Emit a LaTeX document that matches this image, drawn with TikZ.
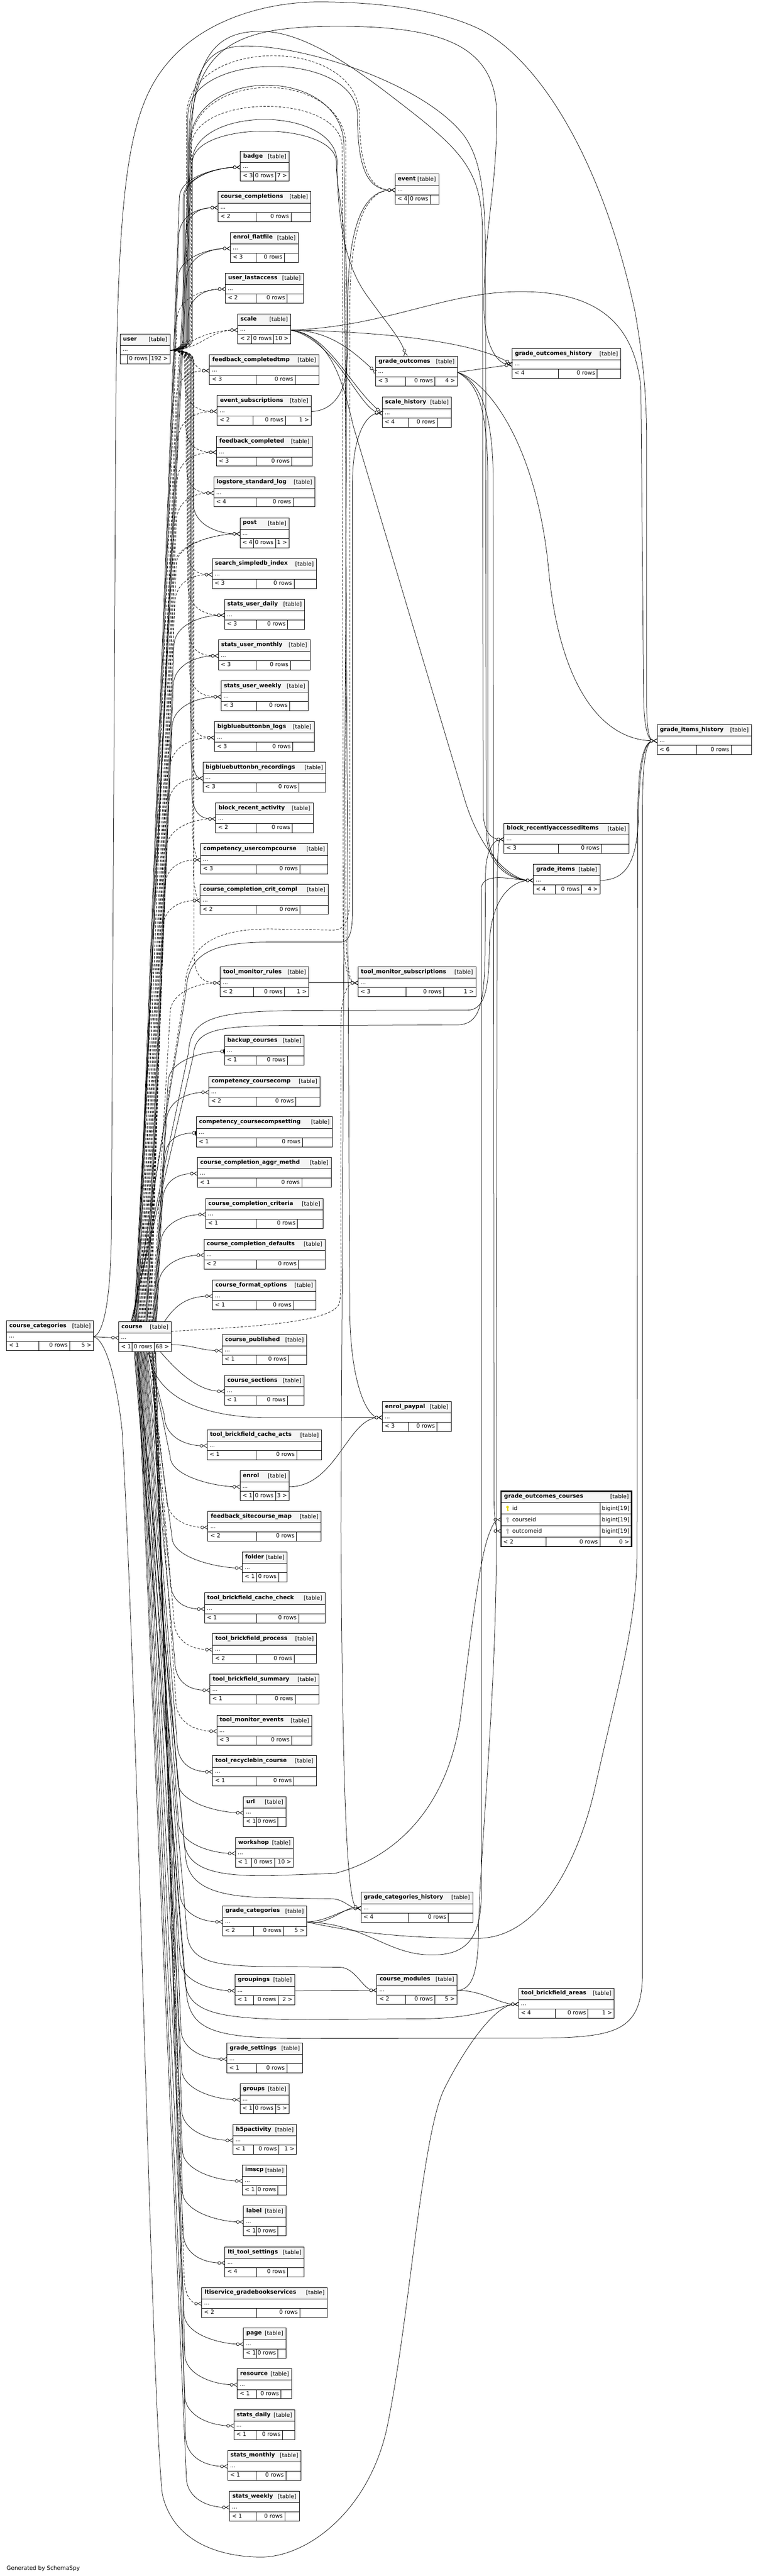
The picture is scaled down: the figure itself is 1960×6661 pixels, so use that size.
\documentclass[tikz,border=0pt]{standalone}
\usepackage{fontspec}
\setmainfont{DejaVu Sans}
\usetikzlibrary{arrows.meta}
\definecolor{hdrgray}{HTML}{F5F5F5}
\definecolor{keyyellow}{HTML}{E6D600}
\definecolor{keygray}{HTML}{B4B4B4}
\tikzset{
  every node/.style={inner sep=0pt, font=\fontsize{14.5pt}{17pt}\selectfont},
  tb/.style={draw, line width=1.2pt, inner sep=0pt, outer sep=0pt, anchor=north west},
  il/.style={line width=1pt},
  rel/.style={line width=1pt, -{Circle[fill=white,length=8.5pt,width=8.5pt]Straight Barb[reversed,length=9pt,width=10pt]}},
  imp/.style={rel, dash pattern=on 6pt off 4pt},
  rel1/.style={line width=1pt, -{Circle[fill=white,length=8.5pt,width=8.5pt]Bar[width=12pt,line width=2.5pt]}},
}
\newcommand\bn[1]{{\bfseries #1}}
\newcommand\tblraw[8]{%
  \fill[hdrgray] (#2,#4) rectangle (#3,#4+29.5);
  \node[tb, minimum width={(#3-#2)*1pt}, minimum height=77.5pt] (#1) at (#2,#4) {};
  \draw[il] (#2,#4+29.5) -- (#3,#4+29.5) (#2,#4+53.5) -- (#3,#4+53.5) (#5,#4+53.5) -- (#5,#4+77.5) (#6,#4+53.5) -- (#6,#4+77.5);
  \node[anchor=base west] at (#2+7,#4+17) {\bn{\detokenize{#1}}};
  \node[anchor=base east] at (#3-7,#4+18.5) {[table]};
  \node[anchor=base west] at (#2+6,#4+44.5) {...};
  \node[anchor=base west] at (#2+6,#4+68.5) {#7};
  \node[anchor=base east] at (#6-5,#4+68.5) {0 rows};
  \node[anchor=base east] at (#3-5,#4+68.5) {#8};
  \coordinate (#1-w) at (#2,#4+41.5);
  \coordinate (#1-e) at (#3,#4+41.5);
  \pgfmathsetmacro\tmpy{#4+41.5}%
  \expandafter\xdef\csname my@#1\endcsname{\tmpy}%
  \expandafter\xdef\csname lx@#1\endcsname{#2}%
}
\newcommand\tbl[6]{%
  \pgfmathsetmacro\tC{(#2+#3)/2}%
  \pgfmathsetmacro\tW{#3-#2}%
  \if\relax\detokenize{#6}\relax
    \pgfmathsetmacro\dA{\tC-21}\pgfmathsetmacro\dB{#3-(0.235*\tW-5)}%
  \else
    \pgfmathsetmacro\dA{\tC-29}\pgfmathsetmacro\dB{#3-(0.27*\tW+1)}%
  \fi
  \tblraw{#1}{#2}{#3}{#4}{\dA}{\dB}{#5}{#6}}
% user -> column table
\newcommand\uE[3]{%
  \pgfmathsetmacro\eY{\csname my@#3\endcsname}%
  \pgfmathsetmacro\eX{\csname lx@#3\endcsname}%
  \pgfmathsetmacro\eC{max(\eX-60,#2+15)}%
  \ifdim\eY pt<905.5pt
    \draw[#1] (user-e) .. controls (#2-25,905.5) and (#2,899) .. (#2,875) -- (#2,\eY+80) .. controls (#2,\eY+25) and (\eC,\eY) .. (#3-w);
  \else
    \draw[#1] (user-e) .. controls (#2-25,905.5) and (#2,912) .. (#2,936) -- (#2,\eY-80) .. controls (#2,\eY-25) and (\eC,\eY) .. (#3-w);
  \fi}
% course -> column table
\newcommand\cE[4]{%
  \pgfmathsetmacro\eY{\csname my@#4\endcsname}%
  \pgfmathsetmacro\eX{\csname lx@#4\endcsname}%
  \pgfmathsetmacro\eC{max(\eX-60,#3+15)}%
  \ifdim\eY pt<3418pt
    \draw[#1] ([xshift=#2pt]course.north) -- (#3,\eY+80) .. controls (#3,\eY+25) and (\eC,\eY) .. (#4-w);
  \else
    \draw[#1] ([xshift=#2pt]course.south) -- (#3,\eY-80) .. controls (#3,\eY-25) and (\eC,\eY) .. (#4-w);
  \fi}
\newcommand\keyicon[3]{%
  \fill[#3] (#1,#2-3) circle[radius=3.4pt];
  \fill[#3] (#1-1.2,#2-1) rectangle (#1+1.2,#2+7);
  \fill[#3] (#1,#2+4) rectangle (#1+2.6,#2+5.5);
}
\begin{document}
\begin{tikzpicture}[x=1pt,y=-1pt]
\useasboundingbox (0,0) rectangle (1960,6661);
\fill[white] (0,0) rectangle (1960,6661);

% ---------------- tables ----------------
\tblraw{user}{311}{440}{864}{329}{387}{}{192 >}
\tblraw{course}{307}{443}{3418}{342}{399}{< 1}{68 >}
\tbl{course_categories}{17}{242}{3415}{< 1}{5 >}

\tbl{badge}{622}{748}{391}{< 3}{7 >}
\tbl{course_completions}{564}{804}{495.5}{< 2}{}
\tbl{enrol_flatfile}{596}{772}{601}{< 3}{}
\tbl{user_lastaccess}{583}{785}{706}{< 2}{}
\tblraw{scale}{615}{752}{812}{650}{708}{< 2}{10 >}
\tbl{feedback_completedtmp}{542}{825}{917}{< 3}{}
\tbl{event_subscriptions}{562}{805}{1022.3}{< 2}{1 >}
\tbl{feedback_completed}{560}{808}{1128}{< 3}{}
\tbl{logstore_standard_log}{553}{815}{1233.3}{< 4}{}
\tbl{post}{621}{748}{1339}{< 4}{1 >}
\tbl{search_simpledb_index}{549}{819}{1444.3}{< 3}{}
\tbl{stats_user_daily}{581}{788}{1549.3}{< 3}{}
\tbl{stats_user_monthly}{565}{802}{1654.4}{< 3}{}
\tbl{stats_user_weekly}{572}{797}{1760.3}{< 3}{}
\tbl{bigbluebuttonbn_logs}{555}{813}{1866}{< 3}{}
\tbl{bigbluebuttonbn_recordings}{525}{843}{1971}{< 3}{}
\tbl{block_recent_activity}{558}{810}{2076}{< 2}{}
\tbl{competency_usercompcourse}{519}{848}{2182}{< 3}{}
\tbl{course_completion_crit_compl}{518}{849}{2287}{< 2}{}
\tbl{tool_monitor_rules}{570}{799}{2500}{< 2}{1 >}
\tbl{backup_courses}{581}{787}{2677}{< 1}{}
\tbl{competency_coursecomp}{540}{828}{2783}{< 2}{}
\tbl{competency_coursecompsetting}{508}{860}{2888}{< 1}{}
\tbl{course_completion_aggr_methd}{511}{857}{2993}{< 1}{}
\tbl{course_completion_criteria}{532}{836}{3099}{< 1}{}
\tbl{course_completion_defaults}{528}{841}{3204}{< 2}{}
\tbl{course_format_options}{550}{817}{3310}{< 1}{}
\tbl{course_published}{575}{793}{3451}{< 1}{}
\tbl{course_sections}{581}{787}{3556}{< 1}{}
\tbl{tool_brickfield_cache_acts}{536}{832}{3697}{< 1}{}
\tbl{enrol}{621}{748}{3803}{< 1}{3 >}
\tbl{feedback_sitecourse_map}{538}{831}{3908}{< 2}{}
\tbl{folder}{627}{743}{4013}{< 1}{}
\tbl{tool_brickfield_cache_check}{529}{841}{4119}{< 1}{}
\tbl{tool_brickfield_process}{550}{819}{4224}{< 2}{}
\tbl{tool_brickfield_summary}{543}{825}{4329}{< 1}{}
\tbl{tool_monitor_events}{561}{807}{4435}{< 3}{}
\tbl{tool_recyclebin_course}{550}{818}{4540}{< 1}{}
\tbl{url}{630}{740}{4646}{< 1}{}
\tblraw{workshop}{609}{759}{4751}{651}{710}{< 1}{10 >}
\tbl{grade_categories}{576}{793}{4928}{< 2}{5 >}
\tbl{groupings}{608}{762}{5106}{< 1}{2 >}
\tbl{grade_settings}{587}{783}{5283}{< 1}{}
\tbl{groups}{621}{748}{5388}{< 1}{5 >}
\tbl{h5pactivity}{603}{767}{5493}{< 1}{1 >}
\tbl{imscp}{627}{741}{5598}{< 1}{}
\tbl{label}{630}{740}{5704}{< 1}{}
\tbl{lti_tool_settings}{582}{787}{5810}{< 4}{}
\tbl{ltiservice_gradebookservices}{522}{847}{5915}{< 2}{}
\tbl{page}{630}{740}{6020}{< 1}{}
\tbl{resource}{614}{755}{6125}{< 1}{}
\tbl{stats_daily}{605}{763}{6231}{< 1}{}
\tbl{stats_monthly}{589}{779}{6336}{< 1}{}
\tbl{stats_weekly}{594}{774}{6442}{< 1}{}

\tbl{event}{1022}{1135}{450}{< 4}{}
\tbl{grade_outcomes}{972}{1183}{921}{< 3}{4 >}
\tbl{grade_outcomes_history}{1325}{1606}{901}{< 4}{}
\tbl{scale_history}{989}{1168}{1027}{< 4}{}
\tbl{grade_items_history}{1700}{1944}{1874}{< 6}{}
\tbl{block_recentlyaccesseditems}{1304}{1627}{2129}{< 3}{}
\tbl{grade_items}{1380}{1552}{2235}{< 4}{4 >}
\tbl{tool_monitor_subscriptions}{926.5}{1231}{2500}{< 3}{1 >}
\tbl{enrol_paypal}{989}{1167}{3624}{< 3}{}
\tbl{grade_categories_history}{934}{1223}{4893}{< 4}{}
\tbl{course_modules}{975}{1182}{5105}{< 2}{5 >}
\tbl{tool_brickfield_areas}{1341.5}{1589}{5141}{< 4}{1 >}

% grade_outcomes_courses (with columns)
\fill[hdrgray] (1296.5,3856) rectangle (1634,3885.5);
\draw[il] (1296.5,3885.5) -- (1634,3885.5) (1296.5,3915) -- (1634,3915) (1296.5,3944.5) -- (1634,3944.5) (1296.5,3974) -- (1634,3974)
  (1552,3885.5) -- (1552,3999.5) (1413,3974) -- (1413,3999.5);
\node[tb, line width=3pt, minimum width=337.5pt, minimum height=143.5pt] (grade_outcomes_courses) at (1296.5,3856) {};
\node[anchor=base west] at (1304,3873) {\bn{grade\_outcomes\_courses}};
\node[anchor=base east] at (1627,3874.5) {[table]};
\keyicon{1313}{3900}{keyyellow}
\keyicon{1313}{3929.5}{keygray}
\keyicon{1313}{3959}{keygray}
\node[anchor=base west] at (1325,3905) {id};
\node[anchor=base west] at (1325,3934.5) {courseid};
\node[anchor=base west] at (1325,3964) {outcomeid};
\node[anchor=base west] at (1557,3905) {bigint[19]};
\node[anchor=base west] at (1557,3934.5) {bigint[19]};
\node[anchor=base west] at (1557,3964) {bigint[19]};
\node[anchor=base west] at (1302,3992) {< 2};
\node[anchor=base east] at (1547,3992) {0 rows};
\node[anchor=base east] at (1628,3992) {0 >};
\coordinate (goc-c) at (1296.5,3929.5);
\coordinate (goc-o) at (1296.5,3959);

\node[anchor=base west] (gen) at (17,6645) {Generated by SchemaSpy};

% ---------------- user -> column ----------------
\uE{rel}{474}{badge}
\uE{rel}{477}{badge}
\uE{rel}{480}{course_completions}
\uE{rel}{483}{enrol_flatfile}
\uE{rel}{486}{user_lastaccess}
\draw[imp] (user-e) .. controls (520,905.5) and (540,853.5) .. (scale-w);
\draw[imp] (user-e) .. controls (500,910) and (500,958.5) .. (feedback_completedtmp-w);
\uE{imp}{478}{event_subscriptions}
\uE{imp}{480}{feedback_completed}
\uE{imp}{482}{logstore_standard_log}
\uE{rel}{500}{post}
\uE{imp}{484}{search_simpledb_index}
\uE{imp}{486}{stats_user_daily}
\uE{imp}{488}{stats_user_monthly}
\uE{imp}{490}{stats_user_weekly}
\uE{imp}{492}{bigbluebuttonbn_logs}
\uE{rel}{494}{bigbluebuttonbn_recordings}
\uE{rel}{496}{block_recent_activity}
\uE{imp}{498}{competency_usercompcourse}
\uE{imp}{500}{course_completion_crit_compl}
\uE{imp}{502}{tool_monitor_rules}

% ---------------- course -> column (above) ----------------
\cE{rel}{-22}{464}{badge}
\cE{rel}{-20}{462}{course_completions}
\cE{rel}{-18}{460}{enrol_flatfile}
\cE{imp}{-16}{458}{user_lastaccess}
\cE{imp}{-14}{462}{scale}
\cE{imp}{-12}{455}{feedback_completedtmp}
\cE{imp}{-10}{460}{event_subscriptions}
\cE{imp}{-8}{458}{feedback_completed}
\cE{imp}{-6}{456}{logstore_standard_log}
\cE{imp}{-4}{456}{post}
\cE{imp}{-2}{452}{post}
\cE{imp}{0}{452}{search_simpledb_index}
\cE{rel}{2}{450}{stats_user_daily}
\cE{rel}{4}{448}{stats_user_monthly}
\cE{rel}{6}{445}{stats_user_weekly}
\cE{imp}{8}{440}{bigbluebuttonbn_logs}
\cE{imp}{10}{435}{bigbluebuttonbn_recordings}
\cE{imp}{12}{430}{block_recent_activity}
\cE{imp}{14}{425}{competency_usercompcourse}
\cE{imp}{16}{420}{course_completion_crit_compl}
\cE{imp}{18}{440}{tool_monitor_rules}
\cE{rel1}{20}{435}{backup_courses}
\cE{rel}{22}{430}{competency_coursecomp}
\cE{rel1}{24}{425}{competency_coursecompsetting}
\cE{rel}{26}{420}{course_completion_aggr_methd}
\cE{rel}{28}{415}{course_completion_criteria}
\cE{rel}{30}{410}{course_completion_defaults}
\draw[rel] ([xshift=50pt]course.north) .. controls (450,3380) and (480,3351.5) .. (course_format_options-w);
\draw[rel] ([yshift=-20pt]course.east) .. controls (500,3478) and (520,3492.5) .. (course_published-w);
\draw[rel] ([xshift=40pt]course.south) .. controls (470,3560) and (520,3597.5) .. (course_sections-w);

% ---------------- course -> column (below) ----------------
\cE{rel}{8}{425}{tool_brickfield_cache_acts}
\cE{rel}{10}{440}{enrol}
\cE{imp}{12}{430}{feedback_sitecourse_map}
\cE{rel}{6}{445}{folder}
\cE{rel}{4}{440}{tool_brickfield_cache_check}
\cE{imp}{14}{450}{tool_brickfield_process}
\cE{rel}{2}{452}{tool_brickfield_summary}
\cE{imp}{16}{455}{tool_monitor_events}
\cE{rel}{0}{458}{tool_recyclebin_course}
\cE{rel}{-2}{460}{url}
\cE{rel}{-4}{462}{workshop}
\cE{rel}{-6}{465}{grade_categories}
\cE{rel}{-8}{466}{groupings}
\cE{rel}{18}{468}{grade_settings}
\cE{rel}{-10}{470}{groups}
\cE{rel}{20}{470}{h5pactivity}
\cE{rel}{-12}{472}{imscp}
\cE{rel}{22}{472}{label}
\cE{rel}{-14}{474}{lti_tool_settings}
\cE{imp}{24}{476}{ltiservice_gradebookservices}
\cE{rel}{-16}{476}{page}
\cE{rel}{26}{478}{resource}
\cE{rel}{-18}{478}{stats_daily}
\cE{rel}{28}{480}{stats_monthly}
\cE{rel}{-20}{482}{stats_weekly}

% ---------------- arcs over the top (user) ----------------
\draw[rel] (user-e) .. controls (463,905.5) and (488,899) .. (488,875) -- (488,400) .. controls (488,170) and (540,119) .. (637,119) .. controls (800,119) and (1100,220) .. (1200,350) .. controls (1250,420) and (1256,520) .. (1256,700) -- (1258,2150) .. controls (1259,2240) and (1320,2276.5) .. (grade_items-w);
\draw[imp] (user-e) .. controls (458,905.5) and (483,899) .. (483,875) -- (483,300) .. controls (483,92) and (930,92) .. (930,300) .. controls (930,440) and (960,491.5) .. (event-w);
\draw[rel] (user-e) .. controls (461,905.5) and (486,899) .. (486,875) -- (486,300) .. controls (486,129) and (925,129) .. (925,300) .. controls (925,445) and (955,491.5) .. (event-w);
\draw[rel] (user-e) .. controls (465,905.5) and (490,899) .. (490,875) -- (490,380) .. controls (490,167) and (890,167) .. (890,380) -- (905,3400) .. controls (908,3580) and (950,3665.5) .. (enrol_paypal-w);
\draw[imp] (user-e) .. controls (467,905.5) and (492,899) .. (492,875) -- (492,380) .. controls (492,175) and (895,175) .. (895,380) -- (895,2400) .. controls (896,2500) and (905,2541.5) .. (tool_monitor_subscriptions-w);
\draw[imp] (user-e) .. controls (470,905.5) and (495,899) .. (495,875) -- (495,380) .. controls (495,240) and (885,240) .. (885,380) -- (888,2420) .. controls (890,2510) and (905,2541.5) .. (tool_monitor_subscriptions-w);
\draw[rel] (user-e) .. controls (473,905.5) and (498,899) .. (498,875) -- (498,420) .. controls (498,312) and (870,312) .. (870,420) .. controls (870,500) and (898,560) .. (898,800) -- (882,3950) .. controls (886,4700) and (900,4934.5) .. (grade_categories_history-w);

% ---------------- arcs over the top (course, course_categories) ----------------
\draw[rel] ([xshift=-24pt]course.north) -- (490,400) .. controls (490,120) and (600,68) .. (875,68) .. controls (1150,68) and (1285,120) .. (1285,300) .. controls (1285,500) and (1250,600) .. (1252,800) .. controls (1254,900) and (1290,942.5) .. (grade_outcomes_history-w);
\draw[rel] ([xshift=-26pt]course.north) -- (494,400) .. controls (494,140) and (560,81) .. (675,81) .. controls (800,81) and (950,200) .. (1062,287) .. controls (1200,395) and (1248,450) .. (1248,600) -- (1250,2100) .. controls (1251,2150) and (1270,2170.5) .. (block_recentlyaccesseditems-w);
\draw[rel] ([xshift=-28pt]course.north) -- (497,420) .. controls (497,272) and (872,272) .. (872,420) .. controls (874,600) and (900,700) .. (955,772) .. controls (1000,835) and (1040,880) .. ([xshift=-28pt]grade_outcomes.north);
\draw[rel] (course_categories-e) .. controls (265,3450) and (285,3380) .. (288,3200) -- (300,1000) .. controls (308,500) and (330,300) .. (420,180) .. controls (520,45) and (700,5) .. (825,5) .. controls (1000,5) and (1150,30) .. (1244,77) .. controls (1400,160) and (1560,420) .. (1643,807) .. controls (1668,950) and (1673,1050) .. (1673,1150) -- (1673,1820) .. controls (1673,1890) and (1680,1915.5) .. (grade_items_history-w);

% ---------------- course -> right side ----------------
\draw[imp] ([xshift=-30pt]course.north) -- (478,2560) .. controls (482,2440) and (560,2402) .. (700,2402) -- (860,2405) .. controls (895,2405) and (905,2380) .. (905,2300) -- (905,800) .. controls (905,560) and (955,491.5) .. (event-w);
\draw[rel] ([xshift=-32pt]course.north) -- (482,2560) .. controls (486,2460) and (560,2436) .. (700,2436) -- (880,2436) .. controls (905,2436) and (912,2410) .. (912,2350) -- (912,1250) .. controls (912,1120) and (950,1068.5) .. (scale_history-w);
\draw[rel] ([xshift=-34pt]course.north) -- (488,2720) .. controls (492,2630) and (560,2613) .. (800,2613) -- (1210,2612) .. controls (1250,2611) and (1265,2570) .. (1266,2450) .. controls (1267,2330) and (1320,2276.5) .. (grade_items-w);
\draw[rel] ([xshift=-36pt]course.north) -- (500,2730) .. controls (505,2660) and (560,2650) .. (800,2652) -- (1185,2650) .. controls (1240,2648) and (1254,2600) .. (1255,2450) -- (1256,2260) .. controls (1257,2195) and (1280,2170.5) .. (block_recentlyaccesseditems-w);
\draw[imp] ([yshift=14pt]course.east) .. controls (600,3432) and (860,3425) .. (878,3370) .. controls (884,3340) and (882,3300) .. (882,3200) -- (882,2650) .. controls (882,2570) and (900,2541.5) .. (tool_monitor_subscriptions-w);
\draw[rel] ([xshift=10pt]course.south) .. controls (395,3600) and (500,3666) .. (700,3666) -- (enrol_paypal-w);
\draw[rel] ([xshift=-20pt]course.south) -- (476,4760) .. controls (482,4835) and (560,4852) .. (700,4850) -- (867,4844) .. controls (1000,4810) and (1150,4700) .. (1190,4450) .. controls (1215,4250) and (1235,4080) .. (1255,4000) .. controls (1265,3960) and (1280,3929.5) .. (goc-c);
\draw[rel] ([xshift=-22pt]course.south) -- (480,4800) .. controls (486,4880) and (560,4905) .. (700,4907) -- (860,4910) .. controls (890,4911) and (905,4934.5) .. (grade_categories_history-w);
\draw[rel] ([xshift=-24pt]course.south) -- (484,5000) .. controls (490,5075) and (560,5084) .. (700,5085) -- (880,5087) .. controls (920,5088) and (940,5146.5) .. (course_modules-w);
\draw[rel] ([xshift=-26pt]course.south) -- (478,5120) .. controls (485,5205) and (560,5222) .. (800,5222) -- (1100,5220) .. controls (1250,5218) and (1300,5182.5) .. (tool_brickfield_areas-w);
\draw[rel] ([xshift=-28pt]course.south) -- (482,5150) .. controls (490,5255) and (560,5271) .. (800,5271) -- (1400,5270) .. controls (1600,5268) and (1662,5250) .. (1662,5100) -- (1662,2100) .. controls (1662,1960) and (1672,1915.5) .. (grade_items_history-w);

% ---------------- other relationships ----------------
\draw[rel] (course_categories-e) -- (course-w);
\draw[rel] (course_categories-e) .. controls (270,3462) and (300,3550) .. (316,3700) .. controls (360,4500) and (392,6200) .. (420,6450) .. controls (450,6580) and (580,6612) .. (676,6612) .. controls (790,6612) and (950,6500) .. (1000,6283) .. controls (1060,6000) and (1090,5520) .. (1150,5400) .. controls (1200,5300) and (1280,5182.5) .. (tool_brickfield_areas-w);
\draw[rel] (scale-e) .. controls (850,853.5) and (910,905) .. (grade_outcomes-w);
\draw[rel] (scale-e) .. controls (1000,858) and (1230,885) .. (grade_outcomes_history-w);
\draw[rel] (scale-e) .. controls (850,862) and (905,1000) .. (scale_history-w);
\draw[rel] (scale-e) .. controls (870,880) and (930,1060) .. (scale_history-w);
\draw[rel] (scale-e) .. controls (1000,845) and (1150,754) .. (1347,754) .. controls (1550,754) and (1640,840) .. (1658,1000) -- (1665,1800) .. controls (1666,1880) and (1676,1915.5) .. (grade_items_history-w);
\draw[rel] (scale-e) .. controls (860,870) and (890,1000) .. (914,1102) -- (1200,2060) .. controls (1240,2200) and (1320,2276.5) .. (grade_items-w);
\draw[rel] (grade_outcomes-e) -- (grade_outcomes_history-w);
\draw[rel] (grade_outcomes-e) .. controls (1262,985) and (1390,1150) .. (1420,1480) .. controls (1450,1780) and (1560,1915.5) .. (grade_items_history-w);
\draw[rel] (grade_outcomes-e) .. controls (1235,990) and (1262,1050) .. (1262,1250) -- (1262,2150) .. controls (1262,2240) and (1330,2276.5) .. (grade_items-w);
\draw[rel] (grade_outcomes-e) .. controls (1240,985) and (1276,1060) .. (1276,1250) -- (1278,3880) .. controls (1279,3930) and (1285,3959) .. (goc-o);
\draw[rel] (grade_items-e) .. controls (1620,2276) and (1650,2230) .. (1652,2100) .. controls (1655,1960) and (1670,1915.5) .. (grade_items_history-w);
\draw[rel] (event_subscriptions-e) .. controls (850,1063.8) and (880,1030) .. (890,990) .. controls (900,950) and (900,900) .. (900,772) .. controls (902,560) and (950,491.5) .. (event-w);
\draw[rel] (tool_monitor_rules-e) -- (tool_monitor_subscriptions-w);
\draw[rel] (enrol-e) .. controls (870,3844.5) and (900,3665.5) .. (enrol_paypal-w);
\draw[rel] (grade_categories-e) .. controls (850,4968) and (885,4935) .. (grade_categories_history-w);
\draw[rel] (grade_categories-e) .. controls (840,4985) and (900,4925) .. (grade_categories_history-w);
\draw[rel] (grade_categories-e) .. controls (950,4975) and (1000,5055) .. (1118,5055) .. controls (1200,5055) and (1244,5020) .. (1245,4900) -- (1245,2300) .. controls (1246,2250) and (1330,2276.5) .. (grade_items-w);
\draw[rel] (grade_categories-e) .. controls (950,5005) and (1100,5012) .. (1236,5012) .. controls (1400,5012) and (1500,4800) .. (1540,4620) .. controls (1600,4350) and (1648,4200) .. (1648,4007) -- (1650,2100) .. controls (1651,1960) and (1668,1915.5) .. (grade_items_history-w);
\draw[rel] (groupings-e) -- (course_modules-w);
\draw[rel] (course_modules-e) .. controls (1250,5146.5) and (1290,5182.5) .. (tool_brickfield_areas-w);
\draw[rel] (course_modules-e) .. controls (1222,5146) and (1236,5100) .. (1238,5000) .. controls (1240,4800) and (1284,4400) .. (1284,3990) -- (1286,2300) .. controls (1287,2200) and (1290,2170.5) .. (block_recentlyaccesseditems-w);
\end{tikzpicture}
\end{document}
